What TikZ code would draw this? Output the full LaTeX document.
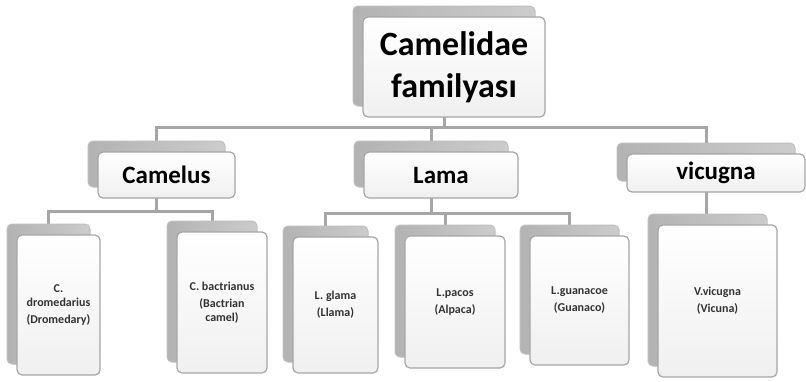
\documentclass[tikz,border=0pt]{standalone}
\usepackage{fontspec}
\setmainfont{Carlito}
\usetikzlibrary{backgrounds}
\tikzset{
  front/.style={draw=gray!70,line width=1.2pt,rounded corners=5pt,top color=white,bottom color=gray!12,align=center,inner sep=2pt},
  back/.style={draw=gray!50,line width=1pt,rounded corners=5pt,left color=gray!60,right color=gray!40},
  conn/.style={draw=gray!70,line width=3pt},
  big/.style={font=\fontsize{34}{42}\selectfont\bfseries},
  mid/.style={font=\fontsize{25}{30}\selectfont\bfseries},
  small/.style={font=\fontsize{12}{14}\selectfont\bfseries,text=black!80},
}
% name, cx, cy, w, h, style, text
\newcommand{\cbox}[7]{%
  \node[back,minimum width=#4pt,minimum height=#5pt] (#1-sh) at (#2-10,#3-11) {};
  \node[front,#6,minimum width=#4pt,minimum height=#5pt] (#1) at (#2,#3) {#7};}
\begin{document}
\begin{tikzpicture}[x=1pt,y=-1pt]
\useasboundingbox (0,0) rectangle (806,381);
\cbox{root}{454}{67}{182}{100}{big}{Camelidae\\familyası}
\cbox{camelus}{166.5}{175}{137}{46}{mid}{Camelus}
\cbox{lama}{441}{175}{154}{46}{mid}{Lama}
\cbox{vicugna}{716}{173}{178}{38}{mid}{vicugna}
%
\cbox{drom}{58.5}{305}{83}{140}{small}{C.\\dromedarius\\[3pt](Dromedary)}
\cbox{bact}{222}{302.5}{90}{141}{small}{C. bactrianus\\[3pt](Bactrian\\camel)}
\cbox{glama}{335.5}{305}{85}{136}{small}{L. glama\\[3pt](Llama)}
\cbox{pacos}{455}{302}{100}{132}{small}{L.pacos\\[3pt](Alpaca)}
\cbox{guan}{579.5}{300.5}{99}{129}{small}{L.guanacoe\\[3pt](Guanaco)}
\cbox{vvic}{717.5}{301}{119}{152}{small}{V.vicugna\\[3pt](Vicuna)}
%
\coordinate (bus) at (0,127);
\coordinate (cbus) at (0,211);
\coordinate (lbus) at (0,213);
\begin{pgfonlayer}{background}
\draw[conn] (root-sh.center) -- (root-sh.center |- bus);
\foreach \n in {camelus,lama,vicugna}
  \draw[conn] (root-sh.center |- bus) -| (\n-sh.center);
\draw[conn] (camelus-sh.center) -- (camelus-sh.center |- cbus);
\foreach \n in {drom,bact}
  \draw[conn] (camelus-sh.center |- cbus) -| (\n-sh.center);
\draw[conn] (lama-sh.center) -- (lama-sh.center |- lbus);
\foreach \n in {glama,pacos,guan}
  \draw[conn] (lama-sh.center |- lbus) -| (\n-sh.center);
\draw[conn] (vicugna-sh.center) -- (vicugna-sh.center |- vvic-sh.center);
\end{pgfonlayer}
\end{tikzpicture}
\end{document}
